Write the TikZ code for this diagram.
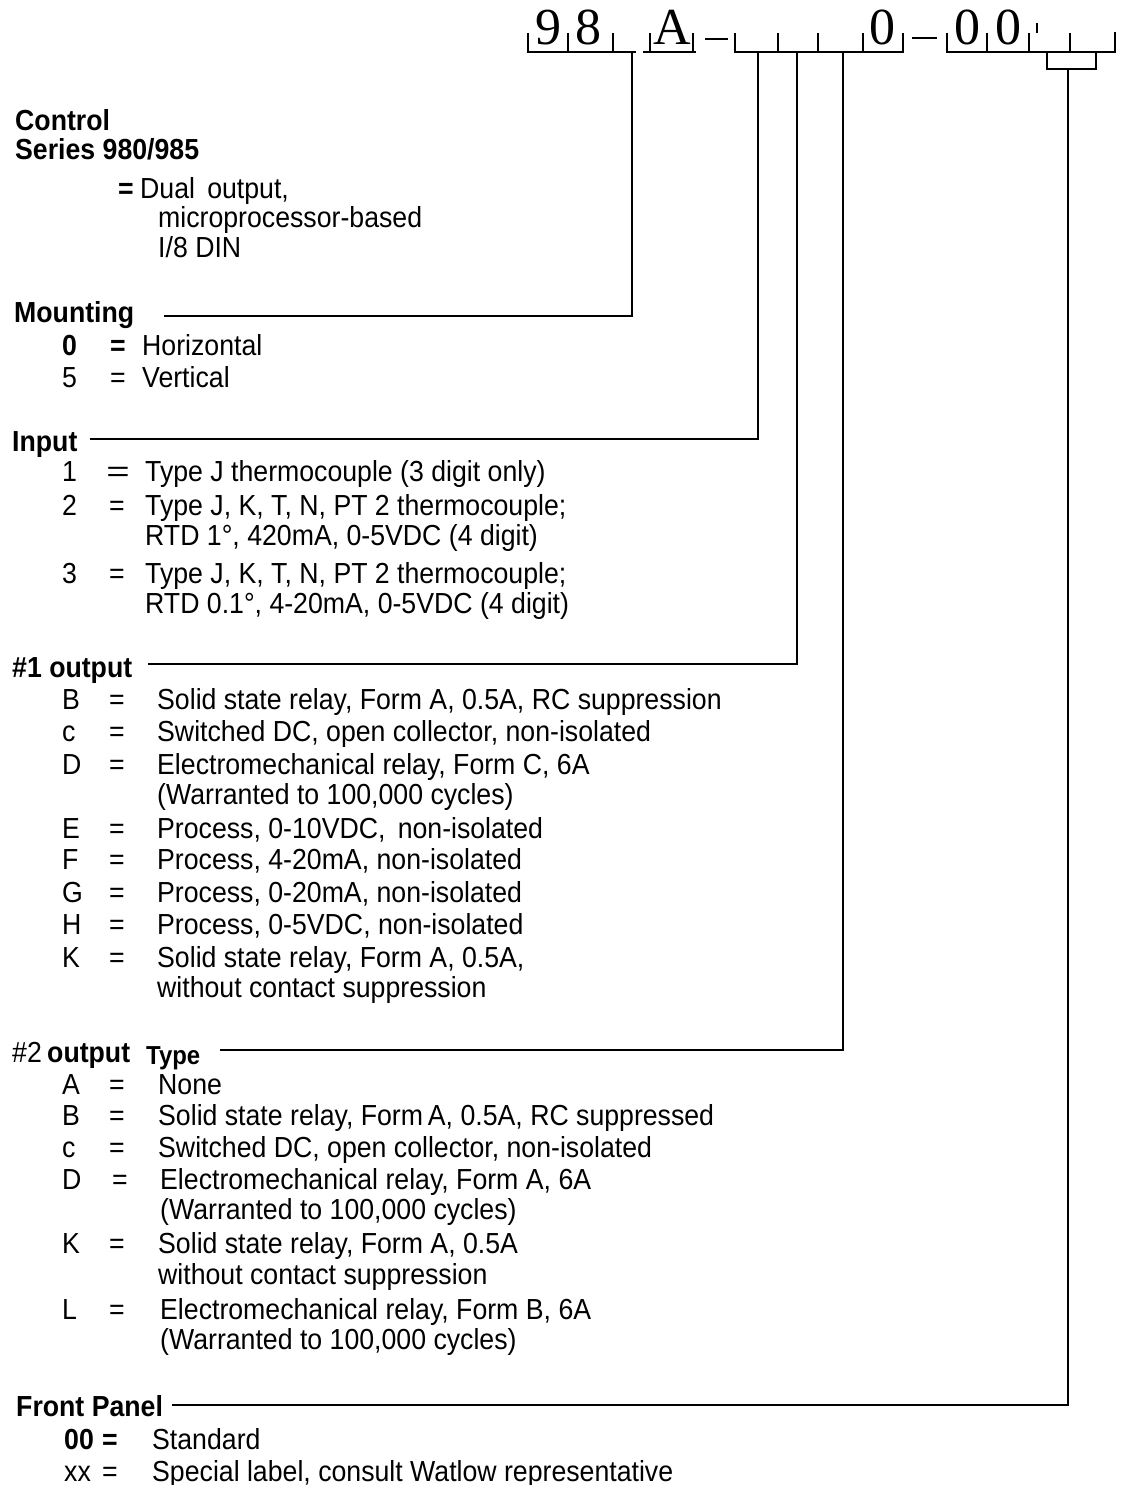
\documentclass[tikz,border=0pt]{standalone}
\usepackage{fontspec}
\setmainfont[FakeStretch=0.92]{Liberation Sans}
\newfontfamily\codefont{Liberation Serif}
\begin{document}
\begin{tikzpicture}[x=1pt,y=-1pt,
  txt/.style={anchor=base west,inner sep=0pt,font=\fontsize{29}{32}\selectfont},
  hd/.style={txt,font=\fontsize{29}{32}\selectfont\bfseries},
  eq/.style={anchor=base,inner sep=0pt,font=\fontsize{29}{32}\selectfont},
  dig/.style={anchor=base,inner sep=0pt,font=\fontsize{52}{52}\selectfont\codefont},
  wire/.style={line width=1.7pt},
  tick/.style={line width=1.8pt}]
\useasboundingbox (0,0) rectangle (1125,1485);

% ---------- code row ----------
\node[dig] (d9) at (548,45) {9};
\node[dig] (d8) at (588,45) {8};
\node[dig] (dA) at (672,45) {A};
\node[dig] (d0a) at (882,45) {0};
\node[dig] (d0b) at (967,45) {0};
\node[dig] (d0c) at (1008,45) {0};

\draw[tick] (528,33) -- (528,52) -- (636,52);
\draw[tick] (568,33) -- (568,52);
\draw[tick] (613,33) -- (613,52);
\draw[tick] (650,33) -- (650,52);
\draw[tick] (643,52) -- (696,52);
\draw[tick] (693,33) -- (693,52);
\draw[line width=2.6pt] (705,39) -- (728,39);
\draw[tick] (735,33) -- (735,52) -- (903,52) -- (903,33);
\draw[line width=2.6pt] (735,52) -- (798,52);
\draw[tick] (778,33) -- (778,52);
\draw[tick] (818,33) -- (818,52);
\draw[tick] (863,33) -- (863,52);
\draw[line width=2.6pt] (912,38) -- (937,38);
\draw[tick] (947,33) -- (947,52) -- (1115,52) -- (1115,32);
\draw[tick] (987,33) -- (987,52);
\draw[tick] (1029,33) -- (1029,52);
\draw[line width=1.2pt] (1037,23) -- (1037,33);
\draw[tick] (1070,33) -- (1070,52);
\draw[tick] (1047,52) -- (1047,69) -- (1096,69) -- (1096,52);

\coordinate (tMount) at (632,52);
\coordinate (tInput) at (758,52);
\coordinate (tOut1) at (797,52);
\coordinate (tOut2) at (843,52);
\coordinate (tFront) at (1068,69);

% ---------- Control ----------
\node[hd] (ctl) at (15,131) {Control};
\node[hd] (ser) at (15,159) {Series 980/985};
\node[hd] (ctleq) at (118,198) {=};
\node[txt] (ctl1) at (140,198) {Dual\,\ output,};
\node[txt] (ctl2) at (158,227) {microprocessor-based};
\node[txt] (ctl3) at (158,257) {I/8 DIN};

% ---------- Mounting ----------
\node[hd] (mnt) at (14,322) {Mounting};
\coordinate (mntL) at (164,316);
\draw[wire] (mntL) -- (tMount |- mntL) -- (tMount);
\node[hd] (m0k) at (62,355) {0};
\node[eq,font=\fontsize{29}{32}\selectfont\bfseries] (m0e) at (118,355) {=};
\node[txt] (m0t) at (142,355) {Horizontal};
\node[txt] (m5k) at (62,387) {5};
\node[eq] (m5e) at (118,387) {=};
\node[txt] (m5t) at (142,387) {Vertical};

% ---------- Input ----------
\node[hd] (inp) at (12,451) {Input};
\coordinate (inpL) at (90,439);
\draw[wire] (inpL) -- (tInput |- inpL) -- (tInput);
\node[txt] (i1k) at (62,481) {1};
\node[eq] (i1e) at (118,481) {\scalebox{1.5}[1]{=}};
\node[txt] (i1t) at (145,481) {Type J thermocouple (3 digit only)};
\node[txt] (i2k) at (62,515) {2};
\node[eq] (i2e) at (117,515) {=};
\node[txt] (i2t) at (145,515) {Type J, K, T, N, PT 2 thermocouple;};
\node[txt] (i2u) at (145,545) {RTD 1°, 420mA, 0-5VDC (4 digit)};
\node[txt] (i3k) at (62,583) {3};
\node[eq] (i3e) at (117,583) {=};
\node[txt] (i3t) at (145,583) {Type J, K, T, N, PT 2 thermocouple;};
\node[txt] (i3u) at (145,613) {RTD 0.1°, 4-20mA, 0-5VDC (4 digit)};

% ---------- #1 output ----------
\node[hd] (o1) at (12,677) {\#1 output};
\coordinate (o1L) at (148,664);
\draw[wire] (o1L) -- (tOut1 |- o1L) -- (tOut1);
\node[txt] (o1Bk) at (62,709) {B};
\node[eq] (o1Be) at (117,709) {=};
\node[txt] (o1Bt) at (157,709) {Solid state relay, Form A, 0.5A, RC suppression};
\node[txt] (o1Ck) at (62,741) {c};
\node[eq] (o1Ce) at (117,741) {=};
\node[txt] (o1Ct) at (157,741) {Switched DC, open collector, non-isolated};
\node[txt] (o1Dk) at (62,774) {D};
\node[eq] (o1De) at (117,774) {=};
\node[txt] (o1Dt) at (157,774) {Electromechanical relay, Form C, 6A};
\node[txt] (o1Du) at (157,804) {(Warranted to 100,000 cycles)};
\node[txt] (o1Ek) at (62,838) {E};
\node[eq] (o1Ee) at (117,838) {=};
\node[txt] (o1Et) at (157,838) {Process, 0-10VDC,\, non-isolated};
\node[txt] (o1Fk) at (62,869) {F};
\node[eq] (o1Fe) at (117,869) {=};
\node[txt] (o1Ft) at (157,869) {Process, 4-20mA, non-isolated};
\node[txt] (o1Gk) at (62,902) {G};
\node[eq] (o1Ge) at (117,902) {=};
\node[txt] (o1Gt) at (157,902) {Process, 0-20mA, non-isolated};
\node[txt] (o1Hk) at (62,934) {H};
\node[eq] (o1He) at (117,934) {=};
\node[txt] (o1Ht) at (157,934) {Process, 0-5VDC, non-isolated};
\node[txt] (o1Kk) at (62,967) {K};
\node[eq] (o1Ke) at (117,967) {=};
\node[txt] (o1Kt) at (157,967) {Solid state relay, Form A, 0.5A,};
\node[txt] (o1Ku) at (157,997) {without contact suppression};

% ---------- #2 output ----------
\node[txt] (o2a) at (12,1062) {\#2};
\node[hd] (o2b) at (47,1062) {output};
\node[hd,font=\fontsize{26}{30}\selectfont\bfseries] (o2c) at (146,1064) {Type};
\coordinate (o2L) at (220,1050);
\draw[wire] (o2L) -- (tOut2 |- o2L) -- (tOut2);
\node[txt] (o2Ak) at (62,1094) {A};
\node[eq] (o2Ae) at (117,1094) {=};
\node[txt] (o2At) at (158,1094) {None};
\node[txt] (o2Bk) at (62,1125) {B};
\node[eq] (o2Be) at (117,1125) {=};
\node[txt] (o2Bt) at (158,1125) {Solid state relay, Form\,A, 0.5A, RC suppressed};
\node[txt] (o2Ck) at (62,1157) {c};
\node[eq] (o2Ce) at (117,1157) {=};
\node[txt] (o2Ct) at (158,1157) {Switched DC, open collector, non-isolated};
\node[txt] (o2Dk) at (62,1189) {D};
\node[eq] (o2De) at (120,1189) {=};
\node[txt] (o2Dt) at (160,1189) {Electromechanical relay, Form A, 6A};
\node[txt] (o2Du) at (160,1219) {(Warranted to 100,000 cycles)};
\node[txt] (o2Kk) at (62,1253) {K};
\node[eq] (o2Ke) at (117,1253) {=};
\node[txt] (o2Kt) at (158,1253) {Solid state relay, Form A, 0.5A};
\node[txt] (o2Ku) at (158,1284) {without contact suppression};
\node[txt] (o2Lk) at (62,1319) {L};
\node[eq] (o2Le) at (117,1319) {=};
\node[txt] (o2Lt) at (160,1319) {Electromechanical relay, Form B, 6A};
\node[txt] (o2Lu) at (160,1349) {(Warranted to 100,000 cycles)};

% ---------- Front Panel ----------
\node[hd] (fp) at (16,1416) {Front Panel};
\coordinate (fpL) at (172,1405);
\draw[wire] (fpL) -- (tFront |- fpL) -- (tFront);
\node[hd] (f0k) at (64,1449) {00};
\node[eq,font=\fontsize{29}{32}\selectfont\bfseries] (f0e) at (110,1449) {=};
\node[txt] (f0t) at (152,1449) {Standard};
\node[txt] (fxk) at (64,1481) {xx};
\node[eq] (fxe) at (110,1481) {=};
\node[txt] (fxt) at (152,1481) {Special label, consult Watlow representative};
\end{tikzpicture}
\end{document}
